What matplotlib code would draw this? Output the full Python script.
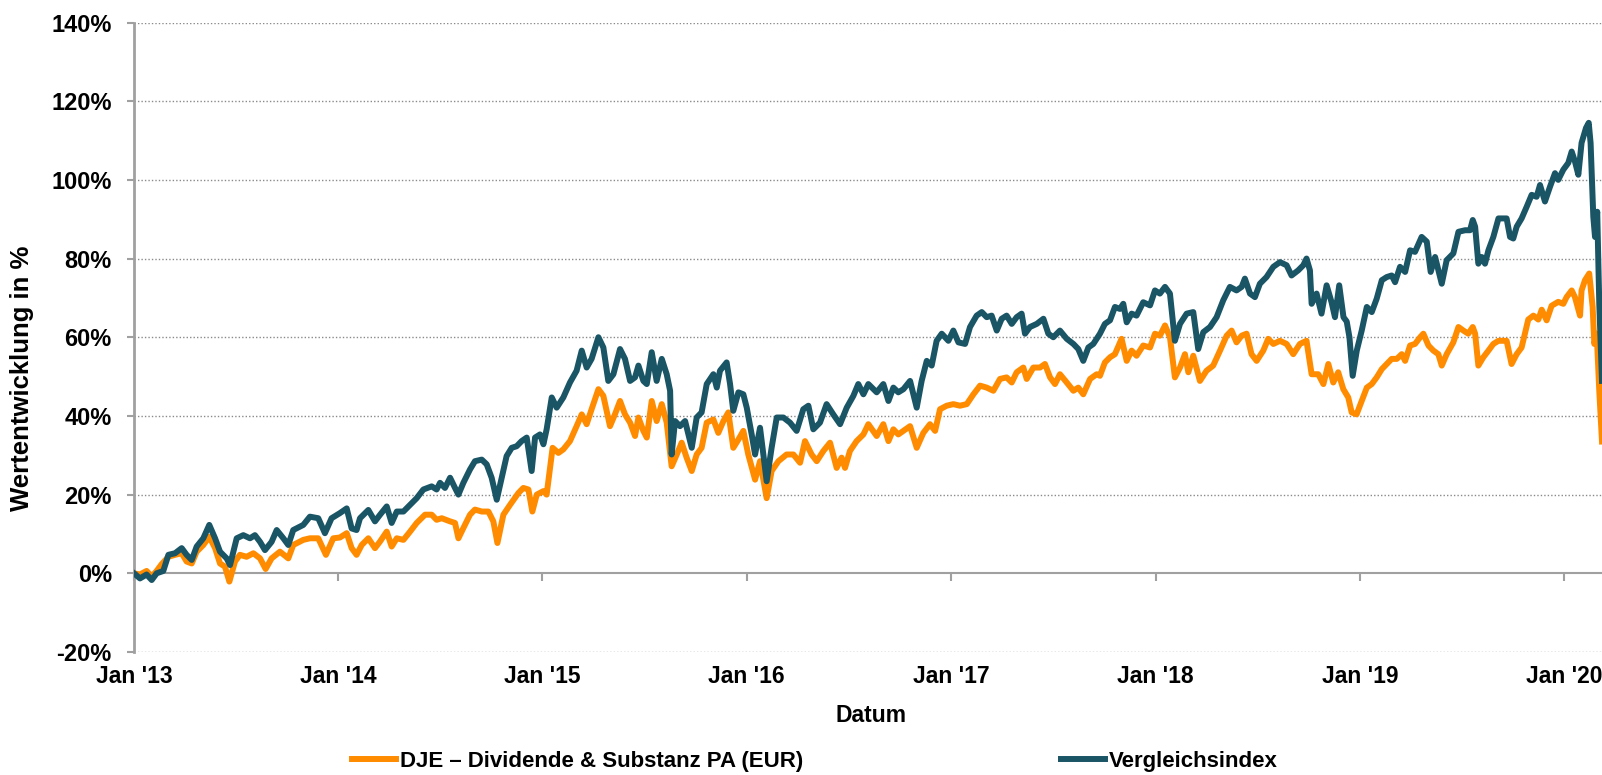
import matplotlib
matplotlib.use("Agg")
import matplotlib.pyplot as plt
import matplotlib.dates as mdates
import matplotlib.lines as mlines
import numpy as np
import pandas as pd

plt.rcParams['font.family'] = ['Liberation Sans', 'DejaVu Sans']
plt.rcParams['font.weight'] = 'bold'

# (months since Jan 2013, performance in %)
index_pts = [
    (0, 0.0), (0.35, -1.3), (0.74, -0.3), (1.04, -1.7), (1.33, 0.0), (1.72, 0.6), (2.02, 4.7), (2.41, 5.1),
    (2.80, 6.4), (3.09, 4.7), (3.39, 3.4), (3.68, 6.8), (4.07, 8.9), (4.42, 12.3), (4.76, 8.9), (5.05, 5.5),
    (5.44, 3.8), (5.64, 2.1), (6.03, 8.9), (6.42, 9.7), (6.81, 8.9), (7.10, 9.7), (7.40, 8.0), (7.69, 5.9),
    (8.08, 8.0), (8.38, 11.0), (8.77, 8.9), (9.06, 7.2), (9.35, 11.0), (9.94, 12.3), (10.33, 14.4), (10.82, 14.0),
    (11.21, 10.2), (11.60, 14.0), (12.09, 15.3), (12.49, 16.5), (12.78, 11.4), (13.07, 11.0), (13.27, 14.0), (13.76, 16.1),
    (14.15, 13.2), (14.45, 14.9), (14.84, 17.0), (15.13, 12.8), (15.43, 15.7), (15.82, 15.7), (16.21, 17.4), (16.60, 19.1),
    (16.99, 21.3), (17.48, 22.1), (17.77, 21.3), (17.97, 23.0), (18.26, 21.7), (18.56, 24.3), (18.85, 21.7), (19.05, 20.0),
    (19.34, 23.0), (19.73, 26.4), (20.02, 28.5), (20.42, 28.9), (20.71, 27.7), (21.00, 24.3), (21.30, 18.7), (21.59, 24.3),
    (21.88, 29.8), (22.18, 31.9), (22.47, 32.3), (22.76, 33.6), (23.06, 34.5), (23.35, 26.0), (23.55, 34.5), (23.84, 35.3),
    (24.04, 32.8), (24.23, 36.6), (24.53, 44.7), (24.82, 42.1), (25.21, 44.7), (25.60, 48.5), (25.99, 51.5), (26.29, 56.6),
    (26.58, 52.3), (26.87, 54.5), (27.27, 60.0), (27.56, 57.4), (27.85, 48.9), (28.15, 50.6),
    (28.54, 57.0), (28.83, 54.5), (29.13, 48.9), (29.42, 49.8), (29.62, 52.8), (29.91, 48.9), (30.11, 48.1), (30.40, 56.2),
    (30.69, 48.9), (30.99, 54.5), (31.28, 50.6), (31.48, 46.4), (31.57, 30.2), (31.77, 38.7), (32.06, 37.4), (32.36, 38.7),
    (32.75, 31.9), (33.04, 39.6), (33.33, 40.9), (33.63, 48.1), (34.02, 50.6), (34.22, 47.2), (34.41, 51.5), (34.80, 53.6),
    (35.00, 48.1), (35.19, 41.3), (35.49, 46.0), (35.78, 45.5), (35.98, 42.1), (36.27, 35.3), (36.47, 30.2), (36.76, 37.0),
    (37.15, 23.4), (37.44, 31.9), (37.74, 39.6), (38.13, 39.6), (38.52, 38.3), (38.91, 36.2), (39.30, 41.7), (39.60, 42.6),
    (39.89, 36.6), (40.28, 38.3), (40.67, 43.0), (41.06, 40.4), (41.46, 37.9), (41.85, 42.1), (42.24, 45.1), (42.53, 48.1),
    (42.83, 45.5), (43.12, 48.1),
    (43.61, 46.0), (44.00, 48.1), (44.30, 43.8), (44.59, 47.2), (44.88, 46.0), (45.18, 46.8), (45.57, 48.9), (45.96, 42.1),
    (46.25, 48.9), (46.55, 54.0), (46.84, 52.8), (47.13, 59.1), (47.43, 60.9), (47.82, 59.1), (48.11, 61.7), (48.41, 58.7),
    (48.80, 58.3), (49.09, 62.6), (49.48, 65.5), (49.78, 66.4), (50.07, 65.1), (50.36, 65.5), (50.66, 61.7), (50.95, 64.7),
    (51.24, 65.5), (51.54, 63.4), (51.83, 65.1), (52.12, 66.0), (52.32, 60.9), (52.61, 62.6), (53.01, 63.4), (53.40, 64.7),
    (53.69, 60.9), (53.98, 60.0), (54.37, 61.7), (54.77, 59.6), (55.16, 58.3), (55.45, 57.0), (55.74, 54.0), (56.04, 57.4),
    (56.33, 58.3),
    (56.72, 60.9), (57.01, 63.4), (57.31, 64.3), (57.60, 67.7), (57.89, 67.2), (58.09, 68.5), (58.29, 63.8), (58.58, 66.0),
    (58.87, 65.5), (59.26, 68.9), (59.66, 68.1), (59.95, 71.9), (60.24, 71.1), (60.54, 72.8), (60.83, 71.1), (61.12, 59.1),
    (61.42, 63.4), (61.81, 66.0), (62.20, 66.4), (62.49, 57.0), (62.79, 61.3), (63.18, 62.6), (63.57, 65.1), (63.96, 69.4),
    (64.35, 72.8), (64.74, 71.9), (65.04, 72.8), (65.23, 74.9), (65.53, 71.1), (65.82, 70.2), (66.11, 73.6), (66.50, 75.3),
    (66.90, 77.9), (67.29, 79.1), (67.68, 78.3), (67.97, 75.7), (68.36, 77.0), (68.66, 78.3), (68.85, 80.0), (69.05, 77.0),
    (69.15, 68.5), (69.44, 71.1), (69.73, 66.0), (70.03, 73.2), (70.32, 68.9), (70.52, 65.1), (70.77, 73.2),
    (71.02, 65.1), (71.21, 64.0), (71.37, 60.0), (71.56, 50.2), (71.80, 56.6), (72.09, 61.7), (72.39, 67.7), (72.68, 66.4),
    (72.97, 69.8), (73.27, 74.5), (73.56, 75.3), (73.85, 75.7), (74.05, 74.0), (74.34, 77.9), (74.64, 76.6), (74.93, 82.1),
    (75.22, 81.7), (75.61, 85.5), (75.91, 84.3), (76.14, 76.6), (76.40, 80.4), (76.79, 73.6), (77.08, 79.6), (77.47, 81.3),
    (77.77, 86.8), (78.16, 87.2), (78.45, 87.2), (78.61, 89.8), (78.75, 88.1), (78.94, 78.7), (79.14, 80.4), (79.33, 78.7),
    (79.53, 82.1), (79.82, 85.5), (80.12, 90.2),
    (80.60, 90.2), (80.80, 85.5), (80.99, 85.1), (81.19, 88.1), (81.48, 90.2), (81.78, 93.2), (82.07, 96.2), (82.36, 95.7),
    (82.56, 98.7), (82.85, 94.5), (83.15, 98.3), (83.44, 101.7), (83.63, 100.0), (83.93, 102.6), (84.22, 104.3), (84.42, 107.2),
    (84.61, 104.7), (84.81, 101.3), (85.00, 109.4), (85.26, 113.2), (85.42, 114.5), (85.53, 109.4), (85.69, 90.6), (85.79, 85.5),
    (85.92, 91.9), (86.04, 68.5), (86.20, 48.9),
]

fund_pts = [
    (0, 0.0), (0.35, -0.3), (0.74, 0.6), (1.04, -0.8), (1.33, 0.6), (1.62, 2.3), (2.02, 4.2), (2.41, 4.7),
    (2.80, 5.1), (3.09, 3.0), (3.39, 2.5), (3.68, 5.5), (4.07, 7.2), (4.42, 9.3), (4.76, 6.4), (5.05, 2.5),
    (5.34, 1.7), (5.60, -2.1), (5.93, 3.0), (6.22, 4.7), (6.61, 4.2), (7.01, 5.1), (7.40, 3.8), (7.73, 1.1),
    (8.08, 3.8), (8.57, 5.5), (9.06, 3.8), (9.35, 7.2), (9.94, 8.5), (10.33, 8.9), (10.82, 8.9), (11.27, 4.7),
    (11.70, 8.9), (12.09, 9.1), (12.49, 10.2), (12.78, 6.4), (13.07, 4.7), (13.37, 7.2), (13.76, 8.9),
    (14.15, 6.4), (14.45, 8.1), (14.84, 10.6), (15.13, 6.8), (15.43, 8.9), (15.82, 8.5), (16.21, 10.6), (16.60, 12.8),
    (17.09, 14.9), (17.48, 14.9), (17.77, 13.6), (18.07, 14.0), (18.56, 13.2), (18.85, 12.8), (19.05, 8.9), (19.34, 11.5),
    (19.73, 14.9), (20.02, 16.2), (20.42, 15.7), (20.81, 15.7), (21.10, 13.2), (21.34, 7.7), (21.69, 14.9), (22.08, 17.4),
    (22.57, 20.4), (22.86, 21.7), (23.16, 21.3), (23.39, 15.7), (23.65, 20.0), (24.04, 20.9), (24.23, 20.0), (24.58, 31.9),
    (24.92, 30.6), (25.21, 31.5), (25.60, 33.6), (25.99, 37.4), (26.29, 40.4), (26.58, 37.9), (26.87, 41.7), (27.27, 46.8),
    (27.56, 45.1), (27.95, 37.4), (28.24, 40.4),
    (28.54, 43.8), (28.83, 40.4), (29.13, 38.3), (29.42, 34.9), (29.62, 39.6), (29.91, 36.2), (30.11, 34.5), (30.40, 43.8),
    (30.69, 38.7), (30.99, 43.0), (31.28, 38.3), (31.57, 27.2), (31.87, 30.2), (32.16, 33.2), (32.45, 29.4), (32.75, 26.0),
    (33.04, 30.2), (33.33, 31.9), (33.63, 38.3), (34.02, 39.1), (34.31, 35.7), (34.61, 38.7), (34.90, 40.9), (35.19, 31.9),
    (35.49, 34.0), (35.78, 36.2), (36.07, 30.2), (36.47, 23.8), (36.76, 28.5), (37.15, 19.1), (37.44, 26.0), (37.84, 28.5),
    (38.32, 30.2), (38.72, 30.2), (39.11, 28.1), (39.40, 33.6), (39.79, 30.2), (40.09, 28.5), (40.48, 31.1), (40.87, 33.2),
    (41.26, 26.8), (41.55, 29.4), (41.75, 26.8), (42.04, 31.1), (42.43, 33.6), (42.83, 35.3), (43.12, 37.9),
    (43.61, 34.9), (44.00, 37.9), (44.30, 33.6), (44.59, 36.6), (44.88, 35.3), (45.18, 36.2), (45.57, 37.4), (45.96, 31.9),
    (46.35, 35.7), (46.74, 37.9), (47.04, 36.2), (47.33, 41.7), (47.72, 42.6), (48.11, 43.0), (48.50, 42.6), (48.90, 43.0),
    (49.29, 45.5), (49.68, 47.7), (50.07, 47.2), (50.46, 46.4), (50.85, 49.4), (51.24, 49.8), (51.54, 48.5), (51.83, 51.1),
    (52.22, 52.3), (52.42, 49.4), (52.81, 52.3), (53.20, 52.3), (53.49, 53.2), (53.79, 49.8), (54.08, 48.1), (54.37, 50.6),
    (54.77, 48.5), (55.16, 46.4), (55.45, 47.2), (55.74, 45.5), (56.14, 49.4), (56.53, 50.6),
    (56.72, 50.2), (57.01, 53.6), (57.31, 54.9), (57.60, 55.7), (57.99, 59.6), (58.29, 54.0), (58.58, 56.6), (58.87, 55.3),
    (59.26, 57.9), (59.66, 57.4), (59.95, 60.9), (60.24, 60.4), (60.54, 63.0), (60.83, 60.0), (61.12, 49.8), (61.42, 52.3),
    (61.71, 55.7), (61.91, 51.1), (62.20, 55.3), (62.59, 48.9), (62.98, 51.5), (63.37, 52.8), (63.77, 56.6), (64.16, 60.4),
    (64.45, 61.7), (64.74, 58.7), (65.04, 60.4), (65.33, 60.9), (65.62, 55.7), (65.92, 54.0), (66.31, 56.6), (66.60, 59.6),
    (66.90, 58.3), (67.29, 59.1), (67.68, 58.3), (68.07, 55.7), (68.46, 58.3), (68.85, 59.1), (69.15, 50.6), (69.54, 50.6),
    (69.84, 48.1), (70.13, 53.2), (70.42, 48.5), (70.71, 51.1), (71.01, 46.8), (71.30, 44.7), (71.50, 40.9), (71.79, 40.4),
    (72.09, 43.8), (72.39, 47.2), (72.68, 48.1), (72.97, 49.8), (73.27, 51.9), (73.56, 53.2), (73.85, 54.5), (74.15, 54.5),
    (74.44, 55.7), (74.64, 54.0), (74.93, 57.9), (75.22, 58.3), (75.52, 60.0), (75.71, 60.9), (76.01, 57.9), (76.30, 56.6),
    (76.59, 55.7), (76.79, 52.8), (77.08, 55.7), (77.47, 58.7), (77.77, 62.6), (78.06, 61.7), (78.35, 60.9), (78.61, 62.6),
    (78.75, 60.9), (78.94, 52.8), (79.23, 54.9), (79.53, 56.6), (79.82, 58.3), (80.12, 59.1),
    (80.60, 59.1), (80.89, 53.2), (81.19, 55.7), (81.48, 57.4), (81.87, 64.5), (82.17, 65.5), (82.46, 64.5), (82.66, 67.0),
    (82.95, 64.3), (83.24, 68.0), (83.63, 69.0), (83.93, 68.5), (84.12, 70.2), (84.42, 71.9), (84.61, 70.2), (84.91, 65.5),
    (85.00, 71.9), (85.20, 74.5), (85.45, 76.2), (85.65, 67.7), (85.75, 58.3), (85.89, 60.9), (86.04, 46.4), (86.20, 33.5),
]

fund_name = 'DJE – Dividende & Substanz PA (EUR)'
index_name = 'Vergleichsindex'
y_ticks = [-20, 0, 20, 40, 60, 80, 100, 120, 140]
y_labels = [f'{v}%' for v in y_ticks]

ORANGE = '#ff8c00'
TEAL = '#1a5566'
GREY = '#a0a0a0'
LW = 4.3

start = pd.Timestamp('2013-01-01')


def to_dates(months):
    return start + pd.to_timedelta(np.asarray(months) * 30.4375, unit='D')


fund_m, fund_v = zip(*fund_pts)
idx_m, idx_v = zip(*index_pts)

fig = plt.figure(figsize=(16.02, 7.75), dpi=100)
ax = fig.add_axes([134 / 1602, 1 - 652 / 775, 1 - 134 / 1602, (652 - 22.5) / 775])

ax.plot(to_dates(fund_m), fund_v, color=ORANGE, lw=LW, zorder=3, solid_joinstyle='round')
ax.plot(to_dates(idx_m), idx_v, color=TEAL, lw=LW, zorder=4, solid_joinstyle='round')

ax.set_ylim(-20, 140)
ax.set_yticks(y_ticks)
ax.set_yticklabels(y_labels)
ax.set_xlim(start, to_dates([86.2])[0])
ax.xaxis.set_major_locator(mdates.YearLocator())
ax.xaxis.set_major_formatter(mdates.DateFormatter("Jan '%y"))

#dotted gridlines, the 0 line is the x-axis itself
for y in y_ticks:
    if y != 0:
        ax.axhline(y, color='#8a8a8a', lw=1, ls=(0, (1, 1.5)), zorder=1)

for s in ['top', 'right']:
    ax.spines[s].set_visible(False)
ax.spines['left'].set_color(GREY)
ax.spines['left'].set_linewidth(2)
ax.spines['bottom'].set_position(('data', 0))
ax.spines['bottom'].set_color(GREY)
ax.spines['bottom'].set_linewidth(1.5)

ax.tick_params(axis='y', direction='out', length=5, width=1.5, color=GREY, pad=11, labelsize=17)
ax.tick_params(axis='x', direction='out', length=6, width=1.5, color=GREY, pad=60, labelsize=16.5)
for lab in ax.get_xticklabels() + ax.get_yticklabels():
    lab.set_fontweight('bold')

fig.text(871 / 1602, 1 - 715 / 775, 'Datum', ha='center', va='center', fontsize=16.5, fontweight='bold')
fig.text(22.5 / 1602, 1 - 378 / 775, 'Wertentwicklung in %', rotation=90, ha='center', va='center',
         fontsize=18.5, fontweight='bold')

handles = [mlines.Line2D([], [], color=ORANGE, lw=LW), mlines.Line2D([], [], color=TEAL, lw=LW)]
fig.legend(handles, [fund_name, index_name], loc='center left', bbox_to_anchor=(352 / 1602, 1 - 761 / 775),
           ncol=2, frameon=False, prop={'size': 16, 'weight': 'bold'}, handlelength=2.0,
           handletextpad=0.15, columnspacing=11.6, borderpad=0, borderaxespad=0)

fig.savefig('out.png', dpi=100)
